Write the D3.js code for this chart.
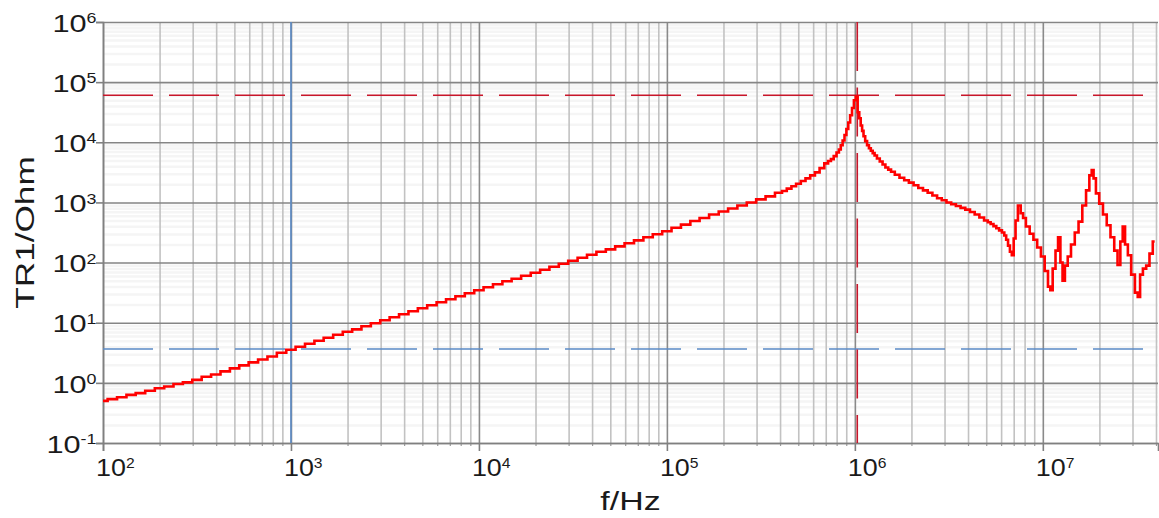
<!DOCTYPE html>
<html>
<head>
<meta charset="utf-8">
<script src="https://cdn.jsdelivr.net/npm/d3@7"></script>
<style>
  html, body { margin: 0; padding: 0; background: #fff; }
  svg { display: block; }
  text { font-family: "Liberation Sans", Arial, sans-serif; fill: #1a1a1a; }
</style>
</head>
<body>
<svg id="chart" width="1159" height="518"></svg>
<script>
// ---- data ----
const freq = [
  100,112,126,141,158,178,200,224,251,282,316,355,398,447,501,562,631,708,794,891,
  1000,1120,1260,1410,1580,1780,2000,2240,2510,2820,3160,3550,3980,4470,5010,5620,6310,7080,7940,8910,
  1.00e4,1.12e4,1.26e4,1.41e4,1.58e4,1.78e4,2.00e4,2.24e4,2.51e4,2.82e4,3.16e4,3.55e4,3.98e4,4.47e4,5.01e4,5.62e4,6.31e4,7.08e4,7.94e4,8.91e4,
  1.00e5,1.12e5,1.26e5,1.41e5,1.58e5,1.78e5,2.00e5,2.24e5,2.51e5,2.82e5,3.16e5,3.55e5,
  3.98e5,4.22e5,4.47e5,4.73e5,5.01e5,5.31e5,5.62e5,5.96e5,6.31e5,6.68e5,7.08e5,7.33e5,7.59e5,7.85e5,8.13e5,8.32e5,
  8.51e5,8.71e5,8.91e5,9.12e5,9.33e5,9.55e5,9.77e5,1.00e6,1.023e6,1.047e6,1.064e6,1.084e6,1.102e6,1.122e6,1.148e6,
  1.175e6,1.202e6,1.230e6,1.259e6,1.288e6,1.334e6,1.380e6,1.429e6,1.479e6,1.531e6,1.585e6,1.679e6,1.778e6,1.884e6,
  1.995e6,2.113e6,2.239e6,2.371e6,2.512e6,2.661e6,2.818e6,2.985e6,3.162e6,3.350e6,3.548e6,3.758e6,3.981e6,4.217e6,
  4.467e6,4.732e6,5.012e6,5.188e6,5.370e6,5.559e6,5.754e6,5.957e6,6.166e6,6.310e6,6.457e6,6.607e6,6.761e6,6.918e6,
  7.079e6,7.244e6,7.499e6,7.762e6,7.943e6,8.318e6,8.710e6,9.120e6,9.550e6,1.000e7,1.047e7,1.084e7,1.109e7,
  1.148e7,1.189e7,1.222e7,1.259e7,1.288e7,1.334e7,1.380e7,1.445e7,1.514e7,1.585e7,1.660e7,1.738e7,1.799e7,1.841e7,1.884e7,
  1.950e7,2.042e7,2.138e7,2.239e7,2.344e7,2.455e7,2.541e7,2.630e7,2.692e7,2.786e7,2.884e7,3.020e7,3.162e7,3.236e7,3.350e7,
  3.467e7,3.631e7,3.758e7,3.936e7
];
const impedance = [
  0.501,0.537,0.575,0.631,0.676,0.741,0.813,0.871,0.955,1.02,1.12,1.26,1.38,1.55,1.74,1.95,2.19,2.45,2.75,3.16,
  3.55,3.98,4.47,5.01,5.62,6.31,7.08,7.76,8.71,9.77,11.0,12.3,13.8,15.5,17.4,19.5,21.9,24.5,27.5,30.9,
  34.7,38.9,43.7,49.0,53.7,60.3,67.6,75.9,85.1,95.5,107,120,135,151,166,186,209,234,263,295,
  331,380,427,490,550,631,708,794,891,1000,1122,1259,
  1445,1549,1698,1862,2042,2265,2512,2818,3162,3715,4467,4898,5248,5888,6761,7586,
  8913,10720,13180,16600,21380,28180,37150,50120,57540,31620,25120,19050,15490,12590,10470,
  8913,7943,7244,6607,6026,5370,4786,4266,3802,3508,3236,2884,2570,2344,
  2138,1928,1738,1585,1445,1303,1175,1084,1000,933,871,813,759,692,
  631,562,501,468,437,403,372,343,316,282,240,191,151,132,
  251,501,891,661,550,398,302,240,178,126,72.4,39.8,34.7,
  79.4,158,263,100,50.1,89.1,126,200,316,479,891,1585,2818,3467,2512,
  1413,955,631,417,263,158,91.2,224,398,200,132,63.1,31.6,26.9,63.1,
  79.4,89.1,141,224
];
const xDecades = [1e2, 1e3, 1e4, 1e5, 1e6, 1e7];
const xDecadeExp = ["2", "3", "4", "5", "6", "7"];
const yDecades = [1e-1, 1e0, 1e1, 1e2, 1e3, 1e4, 1e5, 1e6];
const yDecadeExp = ["-1", "0", "1", "2", "3", "4", "5", "6"];
const blueMarkerFreq = 1000;   // solid blue vertical
const blueMarkerZ = 3.66;      // dashed blue horizontal
const redMarkerFreq = 1.03e6;  // dashed red vertical
const redMarkerZ = 6.04e4;     // dashed red horizontal
const xTitle = "f/Hz";
const yTitle = "TR1/Ohm";

// ---- layout ----
const L = 103, R = 1158, T = 22, B = 443;
const svg = d3.select("#chart");
const x = d3.scaleLog().domain([100, 4.1e7]).range([L, R]);
const y = d3.scaleLog().domain([0.1, 1e6]).range([B, T]);

function minors(domain) {
  const out = [];
  const lo = Math.floor(Math.log10(domain[0])), hi = Math.ceil(Math.log10(domain[1]));
  for (let e = lo; e < hi; e++) for (let m = 2; m <= 9; m++) {
    const v = m * Math.pow(10, e);
    if (v > domain[0] && v < domain[1]) out.push(v);
  }
  return out;
}
const xMinor = minors(x.domain());
const yMinor = minors(y.domain());

svg.append("defs").append("clipPath").attr("id", "clip")
  .append("rect").attr("x", L).attr("y", T - 2).attr("width", R - L + 1).attr("height", B - T + 4);

// minor horizontal bands (very faint)
svg.append("g").attr("transform", `translate(${L},0)`)
  .call(d3.axisLeft(y).tickValues(yMinor).tickSize(-(R - L)).tickFormat(""))
  .call(g => g.select(".domain").remove())
  .selectAll("line").attr("stroke", "#f5f5f5").attr("stroke-width", 2.5);

// minor vertical grid
svg.append("g").attr("transform", `translate(0,${B})`)
  .call(d3.axisBottom(x).tickValues(xMinor).tickSize(-(B - T)).tickFormat(""))
  .call(g => g.select(".domain").remove())
  .selectAll("line").attr("stroke", "#c2c2c2").attr("stroke-width", 1.6);

// major vertical grid
svg.append("g").attr("transform", `translate(0,${B})`)
  .call(d3.axisBottom(x).tickValues(xDecades).tickSize(-(B - T)).tickFormat(""))
  .call(g => g.select(".domain").remove())
  .selectAll("line").attr("stroke", "#8a8a8a").attr("stroke-width", 1.6);

// major horizontal grid
svg.append("g").attr("transform", `translate(${L},0)`)
  .call(d3.axisLeft(y).tickValues(yDecades).tickSize(-(R - L)).tickFormat(""))
  .call(g => g.select(".domain").remove())
  .selectAll("line").attr("stroke", "#858585").attr("stroke-width", 1.6);

// axis ticks (outside)
svg.append("g").attr("transform", `translate(0,${B})`)
  .call(d3.axisBottom(x).tickValues(xMinor).tickSize(3).tickFormat(""))
  .call(g => g.select(".domain").remove())
  .selectAll("line").attr("stroke", "#9a9a9a").attr("stroke-width", 1.2);
svg.append("g").attr("transform", `translate(0,${B})`)
  .call(d3.axisBottom(x).tickValues(xDecades).tickSize(8).tickFormat(""))
  .call(g => g.select(".domain").attr("stroke", "#808080").attr("stroke-width", 1.6))
  .selectAll("line").attr("stroke", "#808080").attr("stroke-width", 1.6);
svg.append("g").attr("transform", `translate(${L},0)`)
  .call(d3.axisLeft(y).tickValues(yDecades).tickSize(7).tickFormat(""))
  .call(g => g.select(".domain").attr("stroke", "#808080").attr("stroke-width", 1.6))
  .selectAll("line").attr("stroke", "#808080").attr("stroke-width", 1.6);

// markers
const mk = svg.append("g").attr("clip-path", "url(#clip)");
mk.append("line")
  .attr("x1", x(blueMarkerFreq)).attr("x2", x(blueMarkerFreq)).attr("y1", T).attr("y2", B)
  .attr("stroke", "#5b8bc6").attr("stroke-width", 1.6);
mk.append("line")
  .attr("x1", L).attr("x2", R).attr("y1", y(blueMarkerZ)).attr("y2", y(blueMarkerZ))
  .attr("stroke", "#5b8bc6").attr("stroke-width", 1.6).attr("stroke-dasharray", "50,16");
mk.append("line")
  .attr("x1", L).attr("x2", R).attr("y1", y(redMarkerZ)).attr("y2", y(redMarkerZ))
  .attr("stroke", "#c8162a").attr("stroke-width", 1.6).attr("stroke-dasharray", "50,16");
mk.append("line")
  .attr("x1", x(redMarkerFreq)).attr("x2", x(redMarkerFreq)).attr("y1", T).attr("y2", B)
  .attr("stroke", "#c8162a").attr("stroke-width", 1.6).attr("stroke-dasharray", "49,16.5");

// curve
const pts = d3.zip(freq, impedance);
const line = d3.line().x(d => x(d[0])).y(d => y(d[1])).curve(d3.curveStep);
svg.append("path").datum(pts).attr("clip-path", "url(#clip)")
  .attr("d", line).attr("fill", "none").attr("stroke", "#ff0000")
  .attr("stroke-width", 2.6).attr("stroke-linejoin", "miter");

// tick labels
const xs = 1.12, ys = 1.28;
xDecades.forEach((v, i) => {
  const t = svg.append("text")
    .attr("transform", `translate(${x(v) - 7},476) scale(${xs},1)`)
    .attr("font-size", 24);
  t.append("tspan").text("10");
  t.append("tspan").attr("font-size", 14).attr("dy", -8.5).text(xDecadeExp[i]);
});
yDecades.forEach((v, i) => {
  const t = svg.append("text")
    .attr("transform", `translate(96.5,${y(v) + 9.7}) scale(${ys},1)`)
    .attr("font-size", 24).attr("text-anchor", "end");
  t.append("tspan").text("10");
  t.append("tspan").attr("font-size", 14).attr("dy", -8.5).text(yDecadeExp[i]);
});

// titles
svg.append("text")
  .attr("transform", `translate(${(L + R) / 2},510) scale(1.33,1)`)
  .attr("font-size", 25.5).attr("text-anchor", "middle").text(xTitle);
svg.append("text")
  .attr("transform", `translate(33.5,${(T + B) / 2}) rotate(-90) scale(1.38,1)`)
  .attr("font-size", 25.5).attr("text-anchor", "middle").text(yTitle);
</script>
</body>
</html>
